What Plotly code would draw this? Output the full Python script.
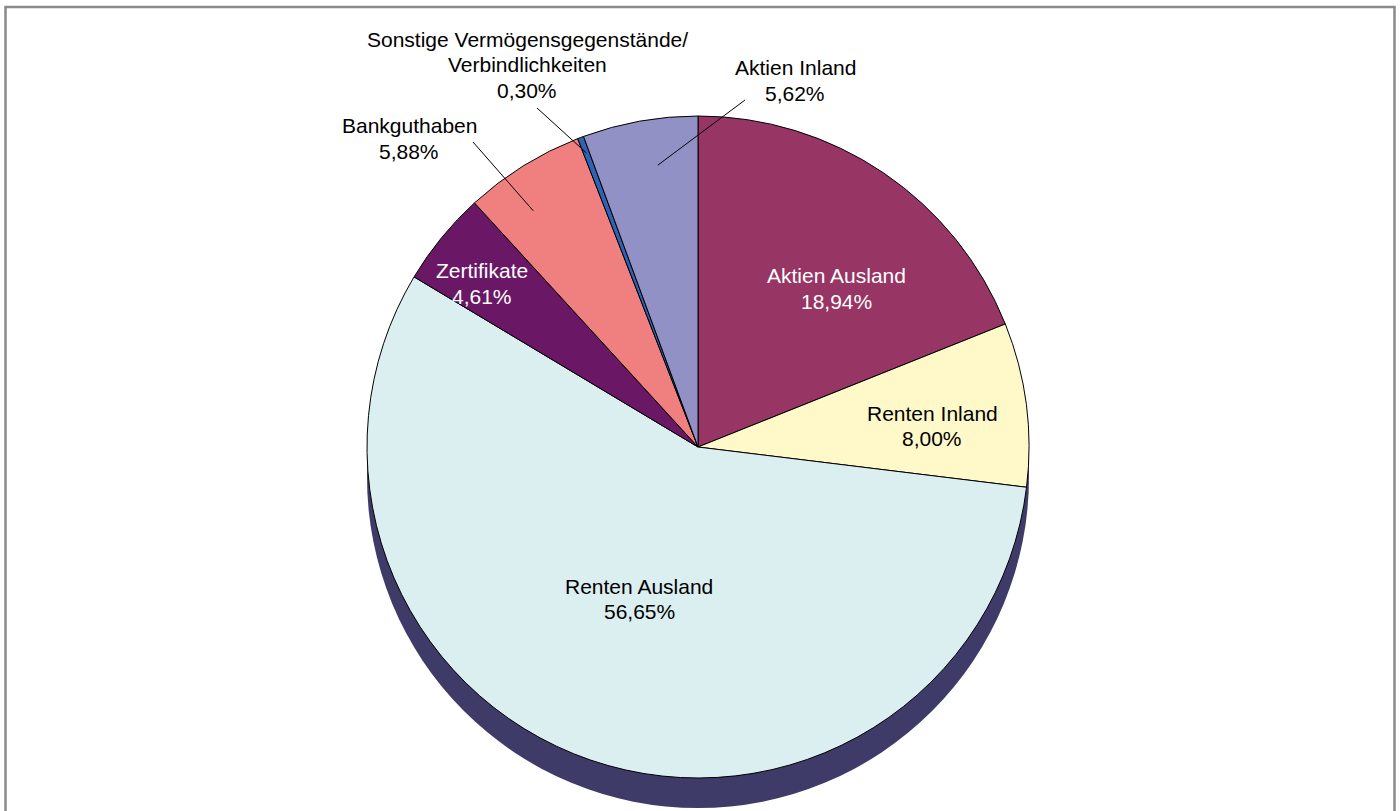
import math
import plotly.graph_objects as go

# ---- data ----
categories = ["Aktien Ausland", "Renten Inland", "Renten Ausland", "Zertifikate",
              "Bankguthaben", "Sonstige Vermögensgegenstände/|Verbindlichkeiten", "Aktien Inland"]
shares = [18.94, 8.00, 56.65, 4.61, 5.88, 0.30, 5.62]
value_labels = ["18,94%", "8,00%", "56,65%", "4,61%", "5,88%", "0,30%", "5,62%"]

# ---- styles / layout ----
colors = ["#973564", "#FFF8C9", "#DBEEF0", "#6A1866", "#F08080", "#2F62B4", "#9191C6"]
text_colors = ["white", "black", "black", "white", "black", "black", "black"]
W, H = 1400, 811
CX, CY, R = 698, 447, 331          # pie centre / radius in pixels
SHADOW_DY = 30
# label: x centre, y of first line centre, line spacing (pixels)
label_pos = [(836, 275, 26), (932, 413, 25), (639, 586, 25.5), (481.5, 270.5, 26),
             (409, 126, 25), (527, 39, 25.5), (795, 67.5, 26)]
# leader lines: (start pixel, radius fraction, angle offset deg) or None
leaders = [None, None, None, None, ((473, 142), 0.87, -3.0), ((537, 108), 0.95, 0.0),
           ((745, 100), 0.86, 2.0)]

FONT = "Liberation Sans, Arial, Helvetica, sans-serif"
FONT_SIZE = 21


def px(x):
    return x / W


def py(y):
    return 1 - y / H


fig = go.Figure()

# shadow (extrusion) pie
fig.add_trace(go.Pie(
    values=[1], labels=["shadow"], marker=dict(colors=["#3E3B68"], line=dict(width=0)),
    textinfo="none", hoverinfo="skip", sort=False, showlegend=False,
    domain=dict(x=[px(CX - R), px(CX + R)], y=[py(CY + SHADOW_DY + R), py(CY + SHADOW_DY - R)]),
))

fig.add_trace(go.Pie(
    values=shares, labels=[c.replace("|", "") for c in categories], sort=False,
    direction="clockwise", rotation=0,
    marker=dict(colors=colors, line=dict(color="black", width=1)),
    textinfo="none", hoverinfo="label+value", showlegend=False,
    domain=dict(x=[px(CX - R), px(CX + R)], y=[py(CY + R), py(CY - R)]),
))

annotations = []
for cat, lab, (lx, ly, dy), tc in zip(categories, value_labels, label_pos, text_colors):
    lines = cat.split("|") + [lab]
    for i, line in enumerate(lines):
        annotations.append(dict(
            x=px(lx), y=py(ly + i * dy), xref="paper", yref="paper",
            xanchor="center", yanchor="middle",
            text=line, showarrow=False, align="center",
            font=dict(family=FONT, size=FONT_SIZE, color=tc),
        ))

shapes = []
total = sum(shares)
cum = 0.0
for s, ld in zip(shares, leaders):
    mid = (cum + s / 2) / total * 2 * math.pi
    cum += s
    if ld is None:
        continue
    (sx, sy), frac, off = ld
    ang = mid + math.radians(off)
    ex = CX + R * frac * math.sin(ang)
    ey = CY - R * frac * math.cos(ang)
    shapes.append(dict(type="line", xref="paper", yref="paper",
                       x0=px(sx), y0=py(sy), x1=px(ex), y1=py(ey),
                       line=dict(color="black", width=1)))

# outer frame
shapes.append(dict(type="rect", xref="paper", yref="paper",
                   x0=px(5.5), x1=px(1394.5), y0=-0.05, y1=py(7),
                   line=dict(color="#8A8A8A", width=2.5), fillcolor="rgba(0,0,0,0)"))

fig.update_layout(
    width=W, height=H, margin=dict(l=0, r=0, t=0, b=0),
    paper_bgcolor="white", plot_bgcolor="white",
    annotations=annotations, shapes=shapes, showlegend=False,
)

fig.write_html("out.html", config={"displayModeBar": False},
               post_script="document.body.style.margin='0';document.body.style.overflow='hidden';")
